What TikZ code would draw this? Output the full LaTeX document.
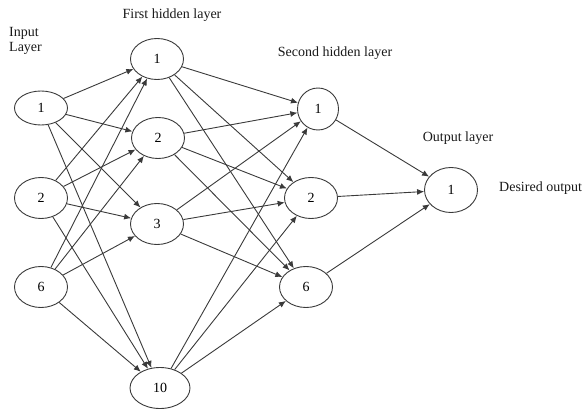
\documentclass[tikz,border=0pt]{standalone}
\usepackage{fontspec}
\setmainfont{Liberation Serif}
\usetikzlibrary{shapes.geometric,arrows.meta}
\definecolor{ln}{HTML}{3A3A3A}
\tikzset{
  neuron/.style={ellipse, draw=ln, line width=0.9pt, minimum width=53pt, minimum height=41pt, inner sep=0pt, font=\fontsize{14}{16}\selectfont},
  conn/.style={draw=ln, line width=0.9pt, -{Latex[length=7pt,width=6pt]}},
  lbl/.style={font=\fontsize{14}{15}\selectfont, inner sep=0pt, text=black!90}
}
\begin{document}
\begin{tikzpicture}[x=1pt,y=-1pt]
\useasboundingbox (0,0) rectangle (585,409);
% input
\node[neuron, minimum height=34pt] (i1) at (41,108) {1};
\node[neuron] (i2) at (41,198) {2};
\node[neuron] (i6) at (41,287) {6};
% first hidden
\node[neuron] (a1) at (157,59) {1};
\node[neuron] (a2) at (158,138) {2};
\node[neuron] (a3) at (157,224) {3};
\node[neuron, minimum width=60pt] (a10) at (160,388) {10};
% second hidden
\node[neuron, minimum width=41pt, minimum height=42pt] (b1) at (318,109) {1};
\node[neuron] (b2) at (311,198) {2};
\node[neuron] (b6) at (306,287) {6};
% output
\node[neuron, minimum height=45pt] (o1) at (451,190) {1};
% labels
\node[lbl, align=left, anchor=north west] (tin) at (9,27) {Input\\Layer};
\node[lbl] (t1) at (172,15) {First hidden layer};
\node[lbl] (t2) at (335,53) {Second hidden layer};
\node[lbl] (t3) at (458,138) {Output layer};
\node[lbl, anchor=west] (t4) at (499,188) {Desired output};
% input -> first hidden
\foreach \s in {i1,i2,i6}{
  \foreach \t in {a1,a2,a3,a10}{
    \draw[conn] (\s) -- (\t);
  }
}
% first hidden -> second hidden
\foreach \s in {a1,a2,a3,a10}{
  \foreach \t in {b1,b2,b6}{
    \draw[conn] (\s) -- (\t);
  }
}
% second hidden -> output
\foreach \s in {b1,b2,b6}{
  \draw[conn] (\s) -- (o1);
}
\end{tikzpicture}
\end{document}
